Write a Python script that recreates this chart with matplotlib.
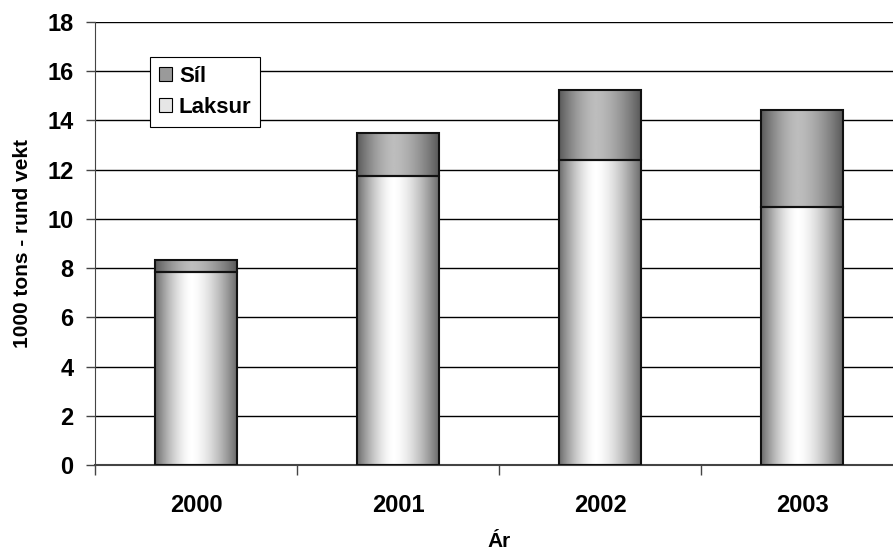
import numpy as np
import matplotlib.pyplot as plt
from matplotlib.patches import Rectangle

plt.rcParams['font.family'] = ['Liberation Sans', 'DejaVu Sans']
plt.rcParams['font.weight'] = 'bold'

# data (1000 tons)
years = ['2000', '2001', '2002', '2003']
laksur = [7.85, 11.75, 12.4, 10.5]
sil = [0.5, 1.75, 2.85, 3.92]

yticks = list(range(0, 19, 2))


def gradient(lo, hi, peak):
    # horizontal "cylinder" shading: dark edges, light near peak
    x = np.linspace(0, 1, 256)
    d = np.where(x < peak, (peak - x) / peak, (x - peak) / (1 - peak))
    v = hi - (hi - lo) * d ** 1.6
    return np.tile(v, (2, 1))


grad_laksur = gradient(0.42, 1.0, 0.45)
grad_sil = gradient(0.35, 0.74, 0.45)

fig = plt.figure(figsize=(8.93, 5.54), dpi=100)
ax = fig.add_axes([0.1064, 0.1606, 0.905, 0.7997])

width = 0.405
for i, (a, b) in enumerate(zip(laksur, sil)):
    x0 = i - width / 2
    ax.imshow(grad_laksur, cmap='gray', vmin=0, vmax=1, aspect='auto',
              extent=(x0, x0 + width, 0, a), zorder=2, interpolation='bilinear')
    ax.imshow(grad_sil, cmap='gray', vmin=0, vmax=1, aspect='auto',
              extent=(x0, x0 + width, a, a + b), zorder=2, interpolation='bilinear')
    ax.add_patch(Rectangle((x0, 0), width, a, fill=False, edgecolor='#111111',
                           linewidth=1.5, zorder=3))
    ax.add_patch(Rectangle((x0, a), width, b, fill=False, edgecolor='#111111',
                           linewidth=1.5, zorder=3))

ax.set_xlim(-0.5, 3.5)
ax.set_ylim(0, 18)
ax.set_yticks(yticks)
ax.set_yticklabels([str(t) for t in yticks], fontsize=17, fontweight='bold')
ax.set_xticks(range(len(years)))
ax.set_xticklabels(years, fontsize=17, fontweight='bold')
ax.tick_params(axis='x', length=0, pad=21)
ax.set_xticks([0.5, 1.5, 2.5, -0.5], minor=True)
ax.tick_params(axis='x', which='minor', length=7, width=1, color='#444444')
ax.tick_params(axis='y', length=6.5, width=1, color='#444444', pad=9)

for t in yticks[1:]:
    ax.axhline(t, color='black', linewidth=1, zorder=1)

for s in ['top', 'right']:
    ax.spines[s].set_visible(False)
ax.spines['left'].set_color('#444444')
ax.spines['bottom'].set_color('#444444')
ax.spines['bottom'].set_linewidth(1.5)

ax.set_ylabel('1000 tons - rund vekt', fontsize=15, fontweight='bold', labelpad=11)
ax.set_xlabel('Ár', fontsize=15, fontweight='bold', labelpad=11)

h_sil = Rectangle((0, 0), 1, 1, facecolor='#9a9a9a', edgecolor='black', linewidth=0.8)
h_lak = Rectangle((0, 0), 1, 1, facecolor='#e6e6e6', edgecolor='black', linewidth=0.8)
leg = ax.legend([h_sil, h_lak], ['Síl', 'Laksur'], loc='upper left',
                bbox_to_anchor=(0.068, 0.921), fancybox=False, framealpha=1,
                edgecolor='black', prop={'size': 16, 'weight': 'bold'},
                handlelength=0.6, handleheight=0.6, handletextpad=0.3,
                borderpad=0.4, labelspacing=0.45, borderaxespad=0)
leg.get_frame().set_linewidth(0.8)
leg.set_zorder(5)

fig.savefig('out.png', dpi=100)
